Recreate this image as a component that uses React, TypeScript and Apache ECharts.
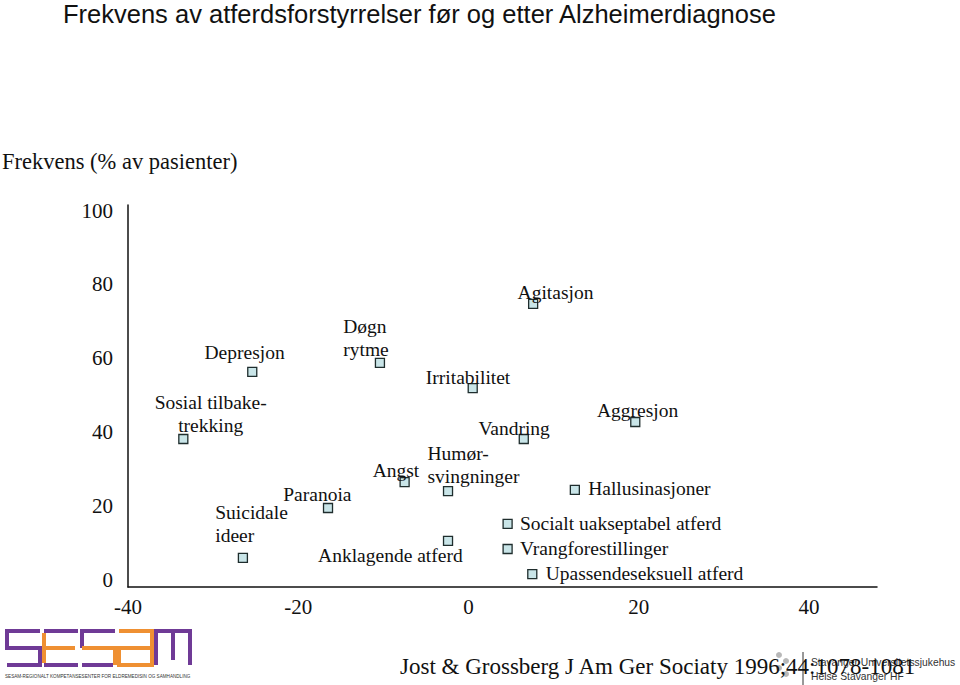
import React, { useEffect, useRef } from "react";
import * as echarts from "echarts";

// ---- data ----
const symptoms = [
  "Depresjon",
  "Sosial tilbake-\ntrekking",
  "Suicidale\nideer",
  "Paranoia",
  "Døgn\nrytme",
  "Angst",
  "Humør-\nsvingninger",
  "Anklagende atferd",
  "Irritabilitet",
  "Agitasjon",
  "Vandring",
  "Aggresjon",
  "Hallusinasjoner",
  "Socialt uakseptabel atferd",
  "Vrangforestillinger",
  "Upassendeseksuell atferd",
];
const onsetMonths = [-25.4, -33.5, -26.5, -16.5, -10.4, -7.5, -2.4, -2.4, 0.5, 7.6, 6.5, 19.6, 12.5, 4.6, 4.6, 7.5];
const frequencyPct = [56.3, 38.1, 5.9, 19.4, 58.7, 26.4, 24.0, 10.5, 51.9, 74.7, 38.1, 42.7, 24.3, 15.1, 8.3, 1.5];
const xTickValues = [-40, -20, 0, 20, 40];
const yTickValues = [0, 20, 40, 60, 80, 100];

// label placement (offset of label anchor from marker centre, alignment)
const labelPlacement: [number, number, string][] = [
  [-7, -19, "center"],
  [28, -24.5, "center"],
  [-27, -33, "left"],
  [-10, -12.5, "center"],
  [-36, -24.5, "left"],
  [-8, -11, "center"],
  [-20, -25, "left"],
  [-57, 15, "center"],
  [-4, -10, "center"],
  [23, -11, "center"],
  [-9, -10, "center"],
  [3, -11, "center"],
  [14, -1, "left"],
  [13, 0, "left"],
  [13, 0, "left"],
  [14, 0, "left"],
];

const SERIF = "'Liberation Serif', 'Times New Roman', serif";
const SANS = "'Liberation Sans', Arial, sans-serif";
const PURPLE = "#6f3a96";
const ORANGE = "#ef9032";

function logoLine(points: number[][], color: string) {
  return {
    type: "polyline",
    shape: { points },
    style: { stroke: color, lineWidth: 4, fill: null, lineCap: "butt", lineJoin: "miter" },
  };
}

export default function App() {
  const ref = useRef<HTMLDivElement>(null);
  useEffect(() => {
    if (!ref.current) return;
    const chart = echarts.init(ref.current, null, { renderer: "svg" });
    const data = symptoms.map((name, i) => {
      const [dx, dy, align] = labelPlacement[i];
      return {
        name,
        value: [onsetMonths[i], frequencyPct[i]],
        label: { position: [dx + 4.5, dy + 4.5], align, verticalAlign: "middle" },
      };
    });
    chart.setOption({
      animation: false,
      backgroundColor: "#ffffff",
      title: [
        {
          text: "Frekvens av atferdsforstyrrelser før og etter Alzheimerdiagnose",
          left: 63,
          top: 1,
          padding: 0,
          textStyle: { fontFamily: SANS, fontSize: 25.5, fontWeight: "normal", color: "#111" },
        },
        {
          text: "Frekvens (% av pasienter)",
          left: 2,
          top: 150,
          padding: 0,
          textStyle: { fontFamily: SERIF, fontSize: 22.5, fontWeight: "normal", color: "#111" },
        },
      ],
      grid: { left: 128, right: 83, top: 205, bottom: 98, containLabel: false },
      xAxis: {
        type: "value",
        min: -40,
        max: 48,
        splitLine: { show: false },
        axisTick: { show: false },
        axisLine: { show: true, onZero: false, lineStyle: { color: "#111", width: 1.5 } },
        axisLabel: {
          customValues: xTickValues,
          margin: 9,
          fontFamily: SERIF,
          fontSize: 21,
          color: "#111",
        },
      },
      yAxis: {
        type: "value",
        min: -2,
        max: 101.5,
        splitLine: { show: false },
        axisTick: { show: false },
        axisLine: { show: true, onZero: false, lineStyle: { color: "#111", width: 1.5 } },
        axisLabel: {
          customValues: yTickValues,
          margin: 15,
          fontFamily: SERIF,
          fontSize: 21,
          color: "#111",
        },
      },
      series: [
        {
          type: "scatter",
          symbol: "rect",
          symbolSize: 9,
          itemStyle: { color: "#c9e5e8", borderColor: "#1f2d2d", borderWidth: 1.3, opacity: 1 },
          label: {
            show: true,
            formatter: "{b}",
            fontFamily: SERIF,
            fontSize: 19.5,
            lineHeight: 23,
            color: "#111",
          },
          labelLayout: { hideOverlap: false },
          emphasis: { disabled: true },
          data,
        },
      ],
      graphic: [
        // SESAM logo
        logoLine([[40, 631], [7, 631], [7, 648], [40, 648], [40, 665], [7, 665]], PURPLE),
        logoLine([[44, 633], [44, 663]], ORANGE),
        logoLine([[44, 631], [78, 631]], PURPLE),
        logoLine([[46, 648], [75, 648]], ORANGE),
        logoLine([[44, 665], [78, 665]], PURPLE),
        logoLine([[115, 631], [82, 631], [82, 648]], PURPLE),
        logoLine([[82, 648], [115, 648], [115, 665]], ORANGE),
        logoLine([[113, 665], [82, 665]], PURPLE),
        logoLine([[119, 631], [152, 631], [152, 665], [119, 665], [119, 648], [150, 648]], ORANGE),
        logoLine([[156, 665], [156, 631], [190, 631], [190, 665]], PURPLE),
        logoLine([[173, 633], [173, 660]], PURPLE),
        {
          type: "text",
          left: 5,
          top: 674,
          style: {
            text: "SESAM-REGIONALT KOMPETANSESENTER FOR ELDREMEDISIN OG SAMHANDLING",
            font: "4.6px " + SANS,
            fill: "#333",
          },
        },
        // Stavanger logo
        { type: "circle", shape: { cx: 779, cy: 655, r: 3 }, style: { fill: "#b8b8b8" } },
        { type: "circle", shape: { cx: 786, cy: 661, r: 3 }, style: { fill: "#b8b8b8" } },
        { type: "circle", shape: { cx: 779, cy: 668, r: 3 }, style: { fill: "#b8b8b8" } },
        { type: "circle", shape: { cx: 786, cy: 674, r: 3 }, style: { fill: "#b8b8b8" } },
        { type: "line", shape: { x1: 803, y1: 652, x2: 803, y2: 685 }, style: { stroke: "#333", lineWidth: 1 } },
        {
          type: "text",
          x: 811,
          y: 662,
          style: { text: "Stavanger Universitetssjukehus", font: "10.3px " + SANS, fill: "#333", textVerticalAlign: "middle" },
        },
        {
          type: "text",
          x: 811,
          y: 676,
          style: { text: "Helse Stavanger HF", font: "10.3px " + SANS, fill: "#333", textVerticalAlign: "middle" },
        },
        {
          type: "text",
          x: 400,
          y: 666,
          style: {
            text: "Jost & Grossberg J Am Ger Sociaty 1996;44:1078-1081",
            font: "23px " + SERIF,
            fill: "#111",
            textVerticalAlign: "middle",
          },
        },
      ],
    });
    return () => chart.dispose();
  }, []);
  return (
    <div
      ref={ref}
      style={{ position: "fixed", left: 0, top: 0, width: 960, height: 685, background: "#fff" }}
    />
  );
}
